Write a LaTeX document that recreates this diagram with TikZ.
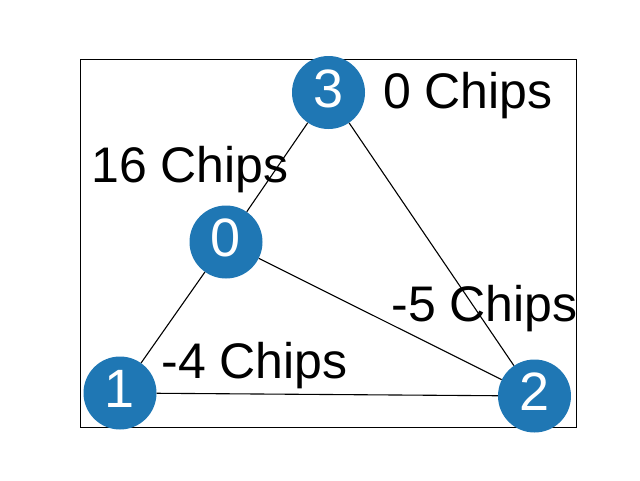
\documentclass[tikz,border=0pt]{standalone}
\usepackage{fontspec}
\setmainfont{Liberation Sans}
\definecolor{nodeblue}{HTML}{1F77B4}
\begin{document}
\begin{tikzpicture}[x=1pt,y=-1pt,
    vertex/.style={circle,fill=nodeblue,text=white,minimum size=73pt,inner sep=0pt,
      font=\fontsize{54}{64}\selectfont,text depth=8pt},
    chips/.style={anchor=base,inner sep=0pt,font=\fontsize{50}{60}\selectfont},
    edge/.style={line width=1.1pt}]
    \useasboundingbox (0,0) rectangle (640,480);
    \draw[line width=0.9pt] (80.5,59) rectangle (576,427);
    % nodes
    \node[vertex] (v3) at (328.5,92.5) {3};
    \node[vertex] (v0) at (226,242) {0};
    \node[vertex] (v1) at (120,393) {1};
    \node[vertex] (v2) at (534.5,396) {2};
    % edges
    \draw[edge] (v3) -- (v0);
    \draw[edge] (v0) -- (v1);
    \draw[edge] (v0) -- (v2);
    \draw[edge] (v3) -- (v2);
    \draw[edge] (v1) -- (v2);
    % chip counts
    \node[chips] (c3) at (468,108) {0 Chips};
    \node[chips] (c0) at (190,182.5) {16 Chips};
    \node[chips] (c2) at (484.5,321.5) {-5 Chips};
    \node[chips] (c1) at (254.5,378) {-4 Chips};
\end{tikzpicture}
\end{document}
